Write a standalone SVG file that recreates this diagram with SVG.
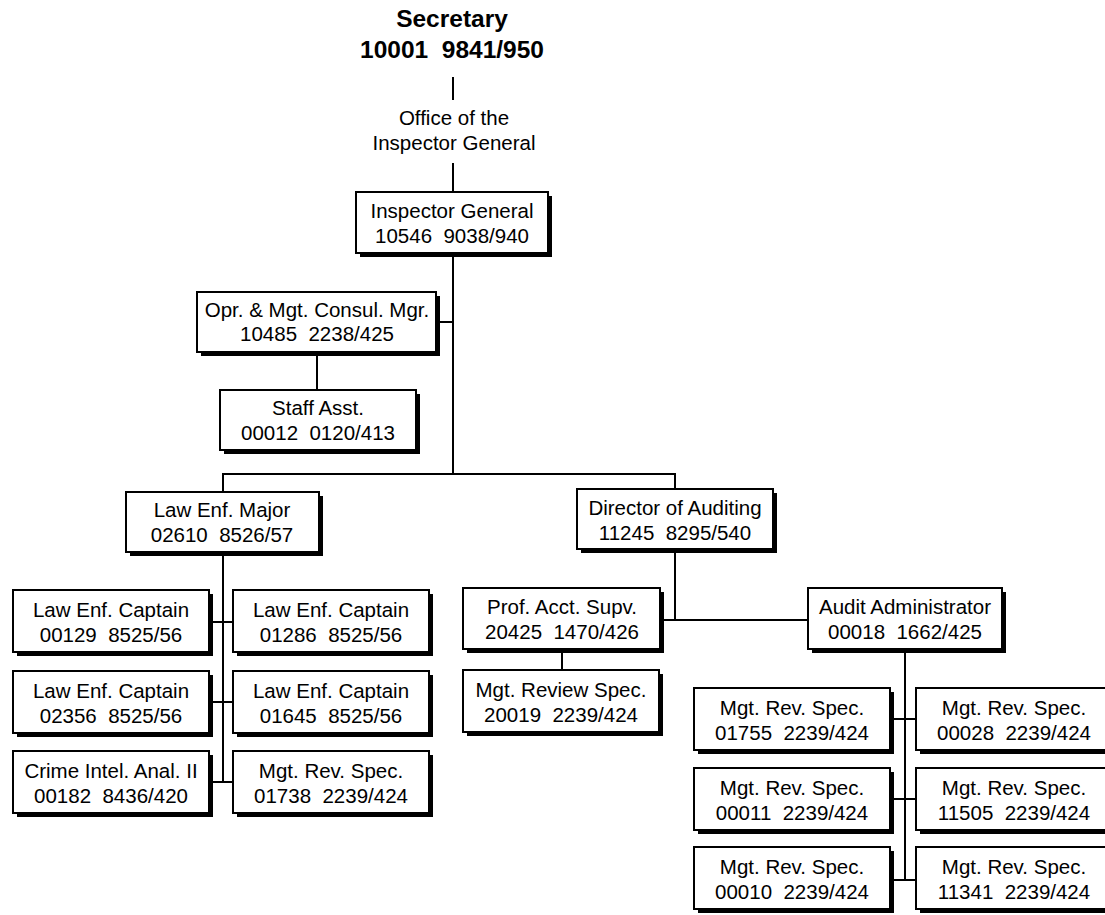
<svg xmlns="http://www.w3.org/2000/svg" width="1105" height="915" viewBox="0 0 1105 915">
  <style>
    .bg { fill: #ffffff; }
    .shadow { fill: #000000; }
    .box { fill: #ffffff; stroke: #000000; stroke-width: 2; }
    .lbl { font-family: "Liberation Sans", Arial, sans-serif; font-size: 20.5px; fill: #000000; text-anchor: middle; white-space: pre; }
    .head { font-family: "Liberation Sans", Arial, sans-serif; font-size: 24.5px; font-weight: bold; fill: #000000; text-anchor: middle; white-space: pre; }
    .conn { stroke: #000000; stroke-width: 2; fill: none; }
  </style>
  <defs>
    <!-- standard position box with drop shadow, 196 x 62 -->
    <g id="card">
      <rect class="shadow" x="4" y="4" width="196" height="62"/>
      <rect class="box" x="0" y="0" width="196" height="62"/>
    </g>
  </defs>

  <rect class="bg" x="0" y="0" width="1105" height="915"/>

  <!-- connectors -->
  <g id="connectors">
    <line class="conn" x1="453" y1="77" x2="453" y2="100"/>
    <line class="conn" x1="453" y1="163" x2="453" y2="192"/>
    <line class="conn" x1="453" y1="253" x2="453" y2="474"/>
    <line class="conn" x1="440" y1="322" x2="453" y2="322"/>
    <line class="conn" x1="317" y1="352" x2="317" y2="390"/>
    <polyline class="conn" points="223,492 223,474 675,474 675,489"/>
    <!-- Law Enf. Major branch -->
    <line class="conn" x1="223" y1="552" x2="223" y2="782"/>
    <line class="conn" x1="212" y1="622" x2="233" y2="622"/>
    <line class="conn" x1="212" y1="702" x2="233" y2="702"/>
    <line class="conn" x1="212" y1="782" x2="233" y2="782"/>
    <!-- Director of Auditing branch -->
    <line class="conn" x1="675" y1="550" x2="675" y2="620"/>
    <line class="conn" x1="664" y1="620" x2="808" y2="620"/>
    <line class="conn" x1="562" y1="649" x2="562" y2="670"/>
    <!-- Audit Administrator branch -->
    <line class="conn" x1="905" y1="649" x2="905" y2="880"/>
    <line class="conn" x1="893" y1="719" x2="916" y2="719"/>
    <line class="conn" x1="893" y1="799" x2="916" y2="799"/>
    <line class="conn" x1="893" y1="880" x2="916" y2="880"/>
  </g>

  <!-- top of chain -->
  <g id="secretary">
    <text class="head" x="452" y="27">Secretary</text>
    <text class="head" x="452" y="58">10001  9841/950</text>
  </g>
  <g id="oig">
    <text class="lbl" x="454" y="125">Office of the</text>
    <text class="lbl" x="454" y="150">Inspector General</text>
  </g>

  <g id="inspector-general">
    <rect class="shadow" x="360" y="196" width="192" height="61"/>
    <rect class="box" x="356" y="192" width="192" height="61"/>
    <text class="lbl" x="452" y="218">Inspector General</text>
    <text class="lbl" x="452" y="243">10546  9038/940</text>
  </g>

  <g id="opr-mgt">
    <rect class="shadow" x="201" y="296" width="239" height="60"/>
    <rect class="box" x="197" y="292" width="239" height="60"/>
    <text class="lbl" x="317" y="317">Opr. &amp; Mgt. Consul. Mgr.</text>
    <text class="lbl" x="317" y="341">10485  2238/425</text>
  </g>

  <g id="staff-asst">
    <rect class="shadow" x="224" y="394" width="196" height="60"/>
    <rect class="box" x="220" y="390" width="196" height="60"/>
    <text class="lbl" x="318" y="415">Staff Asst.</text>
    <text class="lbl" x="318" y="440">00012  0120/413</text>
  </g>

  <g id="law-enf-major">
    <rect class="shadow" x="130" y="496" width="193" height="60"/>
    <rect class="box" x="126" y="492" width="193" height="60"/>
    <text class="lbl" x="222" y="517">Law Enf. Major</text>
    <text class="lbl" x="222" y="542">02610  8526/57</text>
  </g>

  <g id="director-auditing">
    <rect class="shadow" x="581" y="493" width="196" height="60"/>
    <rect class="box" x="577" y="489" width="196" height="60"/>
    <text class="lbl" x="675" y="515">Director of Auditing</text>
    <text class="lbl" x="675" y="540">11245  8295/540</text>
  </g>

  <!-- Law Enf. Major subordinates -->
  <g id="captain-00129">
    <use href="#card" x="13" y="590"/>
    <text class="lbl" x="111" y="617">Law Enf. Captain</text>
    <text class="lbl" x="111" y="642">00129  8525/56</text>
  </g>
  <g id="captain-01286">
    <use href="#card" x="233" y="590"/>
    <text class="lbl" x="331" y="617">Law Enf. Captain</text>
    <text class="lbl" x="331" y="642">01286  8525/56</text>
  </g>
  <g id="captain-02356">
    <use href="#card" x="13" y="671"/>
    <text class="lbl" x="111" y="698">Law Enf. Captain</text>
    <text class="lbl" x="111" y="723">02356  8525/56</text>
  </g>
  <g id="captain-01645">
    <use href="#card" x="233" y="671"/>
    <text class="lbl" x="331" y="698">Law Enf. Captain</text>
    <text class="lbl" x="331" y="723">01645  8525/56</text>
  </g>
  <g id="crime-intel">
    <use href="#card" x="13" y="751"/>
    <text class="lbl" x="111" y="778">Crime Intel. Anal. II</text>
    <text class="lbl" x="111" y="803">00182  8436/420</text>
  </g>
  <g id="mgt-rev-01738">
    <use href="#card" x="233" y="751"/>
    <text class="lbl" x="331" y="778">Mgt. Rev. Spec.</text>
    <text class="lbl" x="331" y="803">01738  2239/424</text>
  </g>

  <!-- Director of Auditing subordinates -->
  <g id="prof-acct">
    <rect class="shadow" x="467" y="592" width="197" height="61"/>
    <rect class="box" x="463" y="588" width="197" height="61"/>
    <text class="lbl" x="562" y="614">Prof. Acct. Supv.</text>
    <text class="lbl" x="562" y="639">20425  1470/426</text>
  </g>
  <g id="audit-admin">
    <rect class="shadow" x="812" y="592" width="194" height="61"/>
    <rect class="box" x="808" y="588" width="194" height="61"/>
    <text class="lbl" x="905" y="614">Audit Administrator</text>
    <text class="lbl" x="905" y="639">00018  1662/425</text>
  </g>
  <g id="mgt-review-20019">
    <use href="#card" x="463" y="670"/>
    <text class="lbl" x="561" y="697">Mgt. Review Spec.</text>
    <text class="lbl" x="561" y="722">20019  2239/424</text>
  </g>

  <!-- Audit Administrator subordinates -->
  <g id="mgt-rev-01755">
    <use href="#card" x="694" y="688"/>
    <text class="lbl" x="792" y="715">Mgt. Rev. Spec.</text>
    <text class="lbl" x="792" y="740">01755  2239/424</text>
  </g>
  <g id="mgt-rev-00028">
    <use href="#card" x="916" y="688"/>
    <text class="lbl" x="1014" y="715">Mgt. Rev. Spec.</text>
    <text class="lbl" x="1014" y="740">00028  2239/424</text>
  </g>
  <g id="mgt-rev-00011">
    <use href="#card" x="694" y="768"/>
    <text class="lbl" x="792" y="795">Mgt. Rev. Spec.</text>
    <text class="lbl" x="792" y="820">00011  2239/424</text>
  </g>
  <g id="mgt-rev-11505">
    <use href="#card" x="916" y="768"/>
    <text class="lbl" x="1014" y="795">Mgt. Rev. Spec.</text>
    <text class="lbl" x="1014" y="820">11505  2239/424</text>
  </g>
  <g id="mgt-rev-00010">
    <use href="#card" x="694" y="847"/>
    <text class="lbl" x="792" y="874">Mgt. Rev. Spec.</text>
    <text class="lbl" x="792" y="899">00010  2239/424</text>
  </g>
  <g id="mgt-rev-11341">
    <use href="#card" x="916" y="847"/>
    <text class="lbl" x="1014" y="874">Mgt. Rev. Spec.</text>
    <text class="lbl" x="1014" y="899">11341  2239/424</text>
  </g>
</svg>
